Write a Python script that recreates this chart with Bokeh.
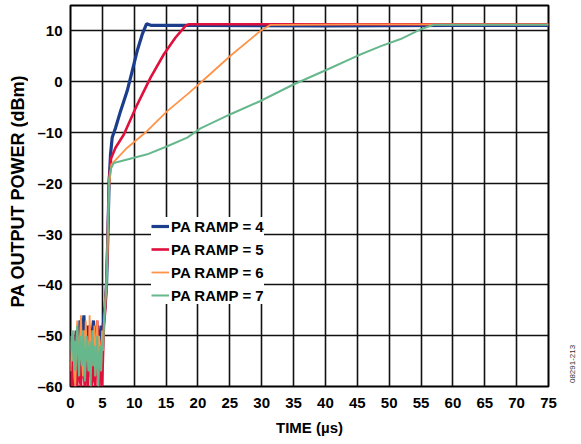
import math
from bokeh.plotting import figure
from bokeh.layouts import row
from bokeh.models import FixedTicker, Legend, LegendItem, Label, Range1d
from bokeh.embed import file_html
from bokeh.resources import INLINE

# ---------------- data ----------------
t_noise = [0.0, 0.15, 0.3, 0.45, 0.6, 0.75, 0.9, 1.05, 1.2, 1.35, 1.5, 1.65,
           1.8, 1.95, 2.1, 2.25, 2.4, 2.55, 2.7, 2.85, 3.0, 3.15, 3.3, 3.45,
           3.6, 3.75, 3.9, 4.05, 4.2, 4.35, 4.5, 4.65, 4.8, 4.95, 5.1, 5.25]

ramp4_t = t_noise + [5.45, 5.65, 5.85, 6.05, 6.28, 6.54, 7.06, 7.85, 8.9, 9.68, 10.47, 11.25, 11.93, 12.6, 20.0, 40.0, 60.0, 75.0]
ramp4_p = [-52, -56, -50, -54, -58, -51, -49, -53, -57, -50, -47, -52,
           -55, -49, -46, -51, -56, -53, -48, -50, -55, -58, -52, -49,
           -47, -54, -57, -51, -48, -53, -56, -50, -48, -52, -49, -46,
           -44, -40, -31, -20, -14.3, -11.0, -9.1, -5.8, -1.8, 2.1, 6.1, 9.3, 11.4, 11.1, 11.1, 11.0, 11.1, 11.1]

ramp5_t = t_noise + [5.45, 5.65, 5.85, 6.05, 6.39, 7.06, 8.37, 10.47, 12.56, 14.65, 16.48, 18.05, 18.6, 30.0, 50.0, 75.0]
ramp5_p = [-55, -60, -53, -58, -60, -52, -57, -60, -54, -50, -59, -60,
           -53, -49, -58, -60, -55, -51, -60, -57, -48, -53, -60, -59,
           -50, -56, -60, -52, -47, -58, -60, -55, -51, -60, -54, -48,
           -45, -39, -30, -19, -15.0, -13.0, -10.4, -4.5, 0.8, 5.4, 8.7, 11.0, 11.3, 11.3, 11.3, 11.3]

ramp6_t = t_noise + [5.45, 5.65, 5.85, 6.05, 6.39, 8.9, 12.04, 15.18, 18.32, 20.4, 25.1, 29.8, 31.4, 45.0, 60.0, 75.0]
ramp6_p = [-57, -51, -55, -49, -58, -60, -53, -47, -52, -56, -50, -46,
           -54, -58, -49, -53, -47, -55, -51, -57, -46, -52, -56, -49,
           -54, -48, -58, -51, -47, -55, -50, -53, -57, -49, -52, -47,
           -43, -41, -32, -21, -16.3, -13.0, -9.7, -5.8, -2.5, -0.2, 5.1, 10.0, 11.2, 11.3, 11.3, 11.3]

ramp7_t = t_noise + [5.45, 5.65, 5.85, 6.05, 6.39, 6.8, 8.9, 12.04, 15.18, 18.32, 20.4, 25.1, 29.8, 35.06, 40.3, 45.0, 48.7, 51.8, 54.9, 57.0, 65.0, 75.0]
ramp7_p = [-50, -53, -49, -55, -51, -57, -52, -48, -54, -58, -50, -53,
           -56, -49, -52, -59, -55, -50, -54, -57, -51, -60, -53, -49,
           -56, -52, -58, -54, -50, -60, -55, -52, -57, -51, -53, -48,
           -44, -38, -29, -19, -17.0, -16.0, -15.3, -14.3, -12.7, -11.0, -9.2, -6.4, -3.8, -0.5, 2.4, 5.1, 7.0, 8.4, 10.3, 11.2, 11.2, 11.2]

series_labels = ["PA RAMP = 4", "PA RAMP = 5", "PA RAMP = 6", "PA RAMP = 7"]
series_colors = ["#1b3d8c", "#e0103c", "#ff9448", "#66b88c"]
series_widths = [3.2, 2.6, 1.8, 2.0]

x_ticks = [0, 5, 10, 15, 20, 25, 30, 35, 40, 45, 50, 55, 60, 65, 70, 75]
y_ticks = [-60, -50, -40, -30, -20, -10, 0, 10]

x_title = "TIME (µs)"
y_title = "PA OUTPUT POWER (dBm)"
side_note = "08291-213"

FONT = "Liberation Sans"
H = 443

p = figure(width=538, height=H, output_backend="svg", toolbar_location=None,
           x_range=Range1d(0, 75), y_range=Range1d(-60, 15),
           min_border_left=42, min_border_right=18, min_border_top=5, min_border_bottom=57)

p.outline_line_color = "black"
p.outline_line_width = 2

for ax in (p.xaxis[0], p.yaxis[0]):
    ax.major_tick_line_color = None
    ax.minor_tick_line_color = None
    ax.major_tick_out = 0
    ax.major_tick_in = 0
    ax.minor_tick_out = 0
    ax.minor_tick_in = 0
    ax.axis_line_color = None
    ax.major_label_text_font = FONT
    ax.major_label_text_font_style = "bold"
    ax.major_label_text_font_size = "15px"
    ax.major_label_text_color = "black"
    ax.axis_label_text_font = FONT
    ax.axis_label_text_font_style = "bold"
    ax.axis_label_text_color = "black"

p.xaxis.ticker = FixedTicker(ticks=x_ticks)
p.yaxis.ticker = FixedTicker(ticks=y_ticks)
p.xaxis.major_label_overrides = {v: str(v) for v in x_ticks}
p.yaxis.major_label_overrides = {v: (str(v).replace("-", "\u2013")) for v in y_ticks}
p.xaxis.major_label_standoff = 11
p.yaxis.major_label_standoff = 8
p.xaxis.axis_label = x_title
p.xaxis.axis_label_text_font_size = "15px"
p.xaxis.axis_label_standoff = 8

p.xgrid.grid_line_color = "#111111"
p.ygrid.grid_line_color = "#111111"
p.xgrid.grid_line_width = 1.6
p.ygrid.grid_line_width = 1.6

data = [(ramp4_t, ramp4_p), (ramp5_t, ramp5_p), (ramp6_t, ramp6_p), (ramp7_t, ramp7_p)]
rmap = {}
for i in range(4):
    t, pw = data[i]
    rmap[i] = p.line(t, pw, line_color=series_colors[i], line_width=series_widths[i])

items = [LegendItem(label=series_labels[i], renderers=[rmap[i]]) for i in range(4)]
legend = Legend(items=items, location=(81, 82))
legend.label_text_font = FONT
legend.label_text_font_style = "bold"
legend.label_text_font_size = "15px"
legend.label_text_color = "black"
legend.glyph_width = 18
legend.glyph_height = 18
legend.label_height = 18
legend.spacing = 5
legend.padding = 4
legend.label_standoff = 2
legend.margin = 0
legend.border_line_color = None
legend.background_fill_color = "white"
legend.background_fill_alpha = 1.0
p.add_layout(legend, "center")


def strip(width):
    s = figure(width=width, height=H, output_backend="svg", toolbar_location=None,
               x_range=Range1d(0, width), y_range=Range1d(0, H),
               x_axis_location=None, y_axis_location=None, min_border=0)
    s.grid.visible = False
    s.outline_line_color = None
    return s


# left strip: y-axis title
left = strip(28)
left.add_layout(Label(x=17, y=H - 216, text=y_title, angle=math.pi / 2,
                      text_font=FONT, text_font_style="bold", text_font_size="18px",
                      text_color="black", text_align="center", text_baseline="middle"))

# right strip: figure number
side = strip(14)
side.add_layout(Label(x=6, y=H - 439, text=side_note, angle=math.pi / 2,
                      text_font=FONT, text_font_size="8px", text_color="#333333",
                      text_align="left", text_baseline="middle"))

layout = row(left, p, side)
open("out.html", "w").write(file_html(layout, INLINE))
